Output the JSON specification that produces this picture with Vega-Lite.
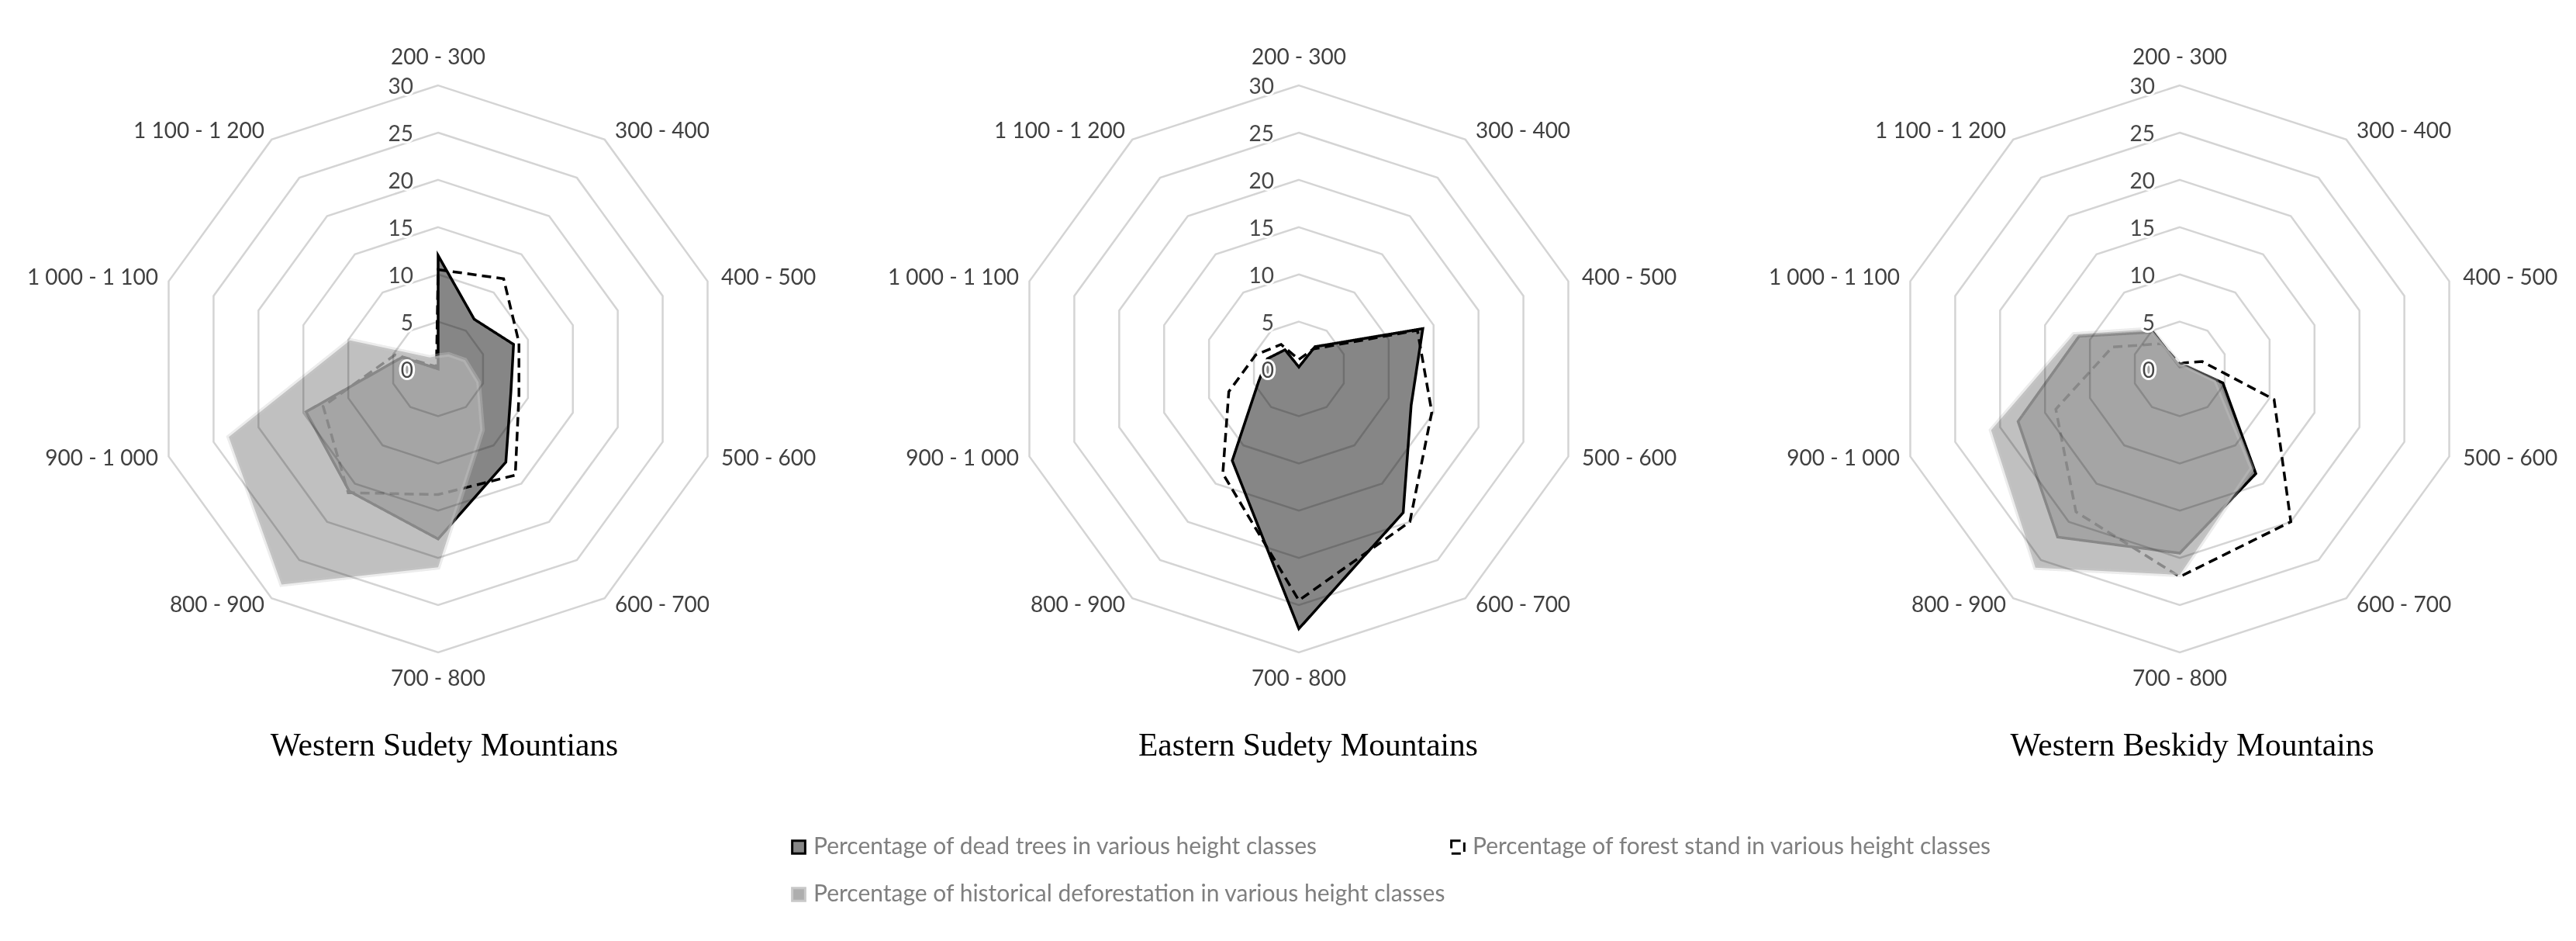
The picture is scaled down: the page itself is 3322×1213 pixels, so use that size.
{
  "$schema": "https://vega.github.io/schema/vega-lite/v6.json",
  "padding": 0,
  "background": "white",
  "spacing": 0,
  "datasets": {
    "series": [
      {"region": "WS", "series": "Percentage of dead trees in various height classes", "k": 0, "v": 12},
      {"region": "WS", "series": "Percentage of dead trees in various height classes", "k": 1, "v": 6.5},
      {"region": "WS", "series": "Percentage of dead trees in various height classes", "k": 2, "v": 8.4},
      {"region": "WS", "series": "Percentage of dead trees in various height classes", "k": 3, "v": 8.1},
      {"region": "WS", "series": "Percentage of dead trees in various height classes", "k": 4, "v": 12.2},
      {"region": "WS", "series": "Percentage of dead trees in various height classes", "k": 5, "v": 18},
      {"region": "WS", "series": "Percentage of dead trees in various height classes", "k": 6, "v": 16},
      {"region": "WS", "series": "Percentage of dead trees in various height classes", "k": 7, "v": 14.7},
      {"region": "WS", "series": "Percentage of dead trees in various height classes", "k": 8, "v": 4},
      {"region": "WS", "series": "Percentage of dead trees in various height classes", "k": 9, "v": 0},
      {"region": "WS", "series": "Percentage of forest stand in various height classes", "k": 0, "v": 10.5},
      {"region": "WS", "series": "Percentage of forest stand in various height classes", "k": 1, "v": 11.8},
      {"region": "WS", "series": "Percentage of forest stand in various height classes", "k": 2, "v": 9},
      {"region": "WS", "series": "Percentage of forest stand in various height classes", "k": 3, "v": 9},
      {"region": "WS", "series": "Percentage of forest stand in various height classes", "k": 4, "v": 13.9},
      {"region": "WS", "series": "Percentage of forest stand in various height classes", "k": 5, "v": 13.3},
      {"region": "WS", "series": "Percentage of forest stand in various height classes", "k": 6, "v": 16.2},
      {"region": "WS", "series": "Percentage of forest stand in various height classes", "k": 7, "v": 12.8},
      {"region": "WS", "series": "Percentage of forest stand in various height classes", "k": 8, "v": 4.8},
      {"region": "WS", "series": "Percentage of forest stand in various height classes", "k": 9, "v": 0.3},
      {"region": "WS", "series": "Percentage of historical deforestation in various height classes", "k": 0, "v": 1.4},
      {"region": "WS", "series": "Percentage of historical deforestation in various height classes", "k": 1, "v": 1.9},
      {"region": "WS", "series": "Percentage of historical deforestation in various height classes", "k": 2, "v": 3},
      {"region": "WS", "series": "Percentage of historical deforestation in various height classes", "k": 3, "v": 4.5},
      {"region": "WS", "series": "Percentage of historical deforestation in various height classes", "k": 4, "v": 8},
      {"region": "WS", "series": "Percentage of historical deforestation in various height classes", "k": 5, "v": 21},
      {"region": "WS", "series": "Percentage of historical deforestation in various height classes", "k": 6, "v": 28.2},
      {"region": "WS", "series": "Percentage of historical deforestation in various height classes", "k": 7, "v": 23.3},
      {"region": "WS", "series": "Percentage of historical deforestation in various height classes", "k": 8, "v": 9.8},
      {"region": "WS", "series": "Percentage of historical deforestation in various height classes", "k": 9, "v": 1.5},
      {"region": "ES", "series": "Percentage of dead trees in various height classes", "k": 0, "v": 0.2},
      {"region": "ES", "series": "Percentage of dead trees in various height classes", "k": 1, "v": 2.9},
      {"region": "ES", "series": "Percentage of dead trees in various height classes", "k": 2, "v": 13.8},
      {"region": "ES", "series": "Percentage of dead trees in various height classes", "k": 3, "v": 12.5},
      {"region": "ES", "series": "Percentage of dead trees in various height classes", "k": 4, "v": 18.8},
      {"region": "ES", "series": "Percentage of dead trees in various height classes", "k": 5, "v": 27.5},
      {"region": "ES", "series": "Percentage of dead trees in various height classes", "k": 6, "v": 12},
      {"region": "ES", "series": "Percentage of dead trees in various height classes", "k": 7, "v": 4.5},
      {"region": "ES", "series": "Percentage of dead trees in various height classes", "k": 8, "v": 3.5},
      {"region": "ES", "series": "Percentage of dead trees in various height classes", "k": 9, "v": 2.5},
      {"region": "ES", "series": "Percentage of forest stand in various height classes", "k": 0, "v": 1},
      {"region": "ES", "series": "Percentage of forest stand in various height classes", "k": 1, "v": 2.6},
      {"region": "ES", "series": "Percentage of forest stand in various height classes", "k": 2, "v": 13.2},
      {"region": "ES", "series": "Percentage of forest stand in various height classes", "k": 3, "v": 14.8},
      {"region": "ES", "series": "Percentage of forest stand in various height classes", "k": 4, "v": 20},
      {"region": "ES", "series": "Percentage of forest stand in various height classes", "k": 5, "v": 24.5},
      {"region": "ES", "series": "Percentage of forest stand in various height classes", "k": 6, "v": 13.7},
      {"region": "ES", "series": "Percentage of forest stand in various height classes", "k": 7, "v": 7.8},
      {"region": "ES", "series": "Percentage of forest stand in various height classes", "k": 8, "v": 4.8},
      {"region": "ES", "series": "Percentage of forest stand in various height classes", "k": 9, "v": 3.2},
      {"region": "WB", "series": "Percentage of dead trees in various height classes", "k": 0, "v": 0.2},
      {"region": "WB", "series": "Percentage of dead trees in various height classes", "k": 1, "v": 0.3},
      {"region": "WB", "series": "Percentage of dead trees in various height classes", "k": 2, "v": 0.8},
      {"region": "WB", "series": "Percentage of dead trees in various height classes", "k": 3, "v": 4.8},
      {"region": "WB", "series": "Percentage of dead trees in various height classes", "k": 4, "v": 13.7},
      {"region": "WB", "series": "Percentage of dead trees in various height classes", "k": 5, "v": 19.5},
      {"region": "WB", "series": "Percentage of dead trees in various height classes", "k": 6, "v": 22},
      {"region": "WB", "series": "Percentage of dead trees in various height classes", "k": 7, "v": 18},
      {"region": "WB", "series": "Percentage of dead trees in various height classes", "k": 8, "v": 11.2},
      {"region": "WB", "series": "Percentage of dead trees in various height classes", "k": 9, "v": 4.8},
      {"region": "WB", "series": "Percentage of forest stand in various height classes", "k": 0, "v": 0.5},
      {"region": "WB", "series": "Percentage of forest stand in various height classes", "k": 1, "v": 0.8},
      {"region": "WB", "series": "Percentage of forest stand in various height classes", "k": 2, "v": 2.5},
      {"region": "WB", "series": "Percentage of forest stand in various height classes", "k": 3, "v": 10.5},
      {"region": "WB", "series": "Percentage of forest stand in various height classes", "k": 4, "v": 20},
      {"region": "WB", "series": "Percentage of forest stand in various height classes", "k": 5, "v": 22},
      {"region": "WB", "series": "Percentage of forest stand in various height classes", "k": 6, "v": 18.7},
      {"region": "WB", "series": "Percentage of forest stand in various height classes", "k": 7, "v": 13.8},
      {"region": "WB", "series": "Percentage of forest stand in various height classes", "k": 8, "v": 7.5},
      {"region": "WB", "series": "Percentage of forest stand in various height classes", "k": 9, "v": 3.3},
      {"region": "WB", "series": "Percentage of historical deforestation in various height classes", "k": 0, "v": 0.5},
      {"region": "WB", "series": "Percentage of historical deforestation in various height classes", "k": 1, "v": 0.5},
      {"region": "WB", "series": "Percentage of historical deforestation in various height classes", "k": 2, "v": 0.8},
      {"region": "WB", "series": "Percentage of historical deforestation in various height classes", "k": 3, "v": 4},
      {"region": "WB", "series": "Percentage of historical deforestation in various height classes", "k": 4, "v": 13},
      {"region": "WB", "series": "Percentage of historical deforestation in various height classes", "k": 5, "v": 21.8},
      {"region": "WB", "series": "Percentage of historical deforestation in various height classes", "k": 6, "v": 26},
      {"region": "WB", "series": "Percentage of historical deforestation in various height classes", "k": 7, "v": 21},
      {"region": "WB", "series": "Percentage of historical deforestation in various height classes", "k": 8, "v": 11.8},
      {"region": "WB", "series": "Percentage of historical deforestation in various height classes", "k": 9, "v": 5.2}
    ],
    "rings": [
      {"ring": 5, "k": 0}, {"ring": 5, "k": 1}, {"ring": 5, "k": 2}, {"ring": 5, "k": 3}, {"ring": 5, "k": 4}, {"ring": 5, "k": 5}, {"ring": 5, "k": 6}, {"ring": 5, "k": 7}, {"ring": 5, "k": 8}, {"ring": 5, "k": 9},
      {"ring": 10, "k": 0}, {"ring": 10, "k": 1}, {"ring": 10, "k": 2}, {"ring": 10, "k": 3}, {"ring": 10, "k": 4}, {"ring": 10, "k": 5}, {"ring": 10, "k": 6}, {"ring": 10, "k": 7}, {"ring": 10, "k": 8}, {"ring": 10, "k": 9},
      {"ring": 15, "k": 0}, {"ring": 15, "k": 1}, {"ring": 15, "k": 2}, {"ring": 15, "k": 3}, {"ring": 15, "k": 4}, {"ring": 15, "k": 5}, {"ring": 15, "k": 6}, {"ring": 15, "k": 7}, {"ring": 15, "k": 8}, {"ring": 15, "k": 9},
      {"ring": 20, "k": 0}, {"ring": 20, "k": 1}, {"ring": 20, "k": 2}, {"ring": 20, "k": 3}, {"ring": 20, "k": 4}, {"ring": 20, "k": 5}, {"ring": 20, "k": 6}, {"ring": 20, "k": 7}, {"ring": 20, "k": 8}, {"ring": 20, "k": 9},
      {"ring": 25, "k": 0}, {"ring": 25, "k": 1}, {"ring": 25, "k": 2}, {"ring": 25, "k": 3}, {"ring": 25, "k": 4}, {"ring": 25, "k": 5}, {"ring": 25, "k": 6}, {"ring": 25, "k": 7}, {"ring": 25, "k": 8}, {"ring": 25, "k": 9},
      {"ring": 30, "k": 0}, {"ring": 30, "k": 1}, {"ring": 30, "k": 2}, {"ring": 30, "k": 3}, {"ring": 30, "k": 4}, {"ring": 30, "k": 5}, {"ring": 30, "k": 6}, {"ring": 30, "k": 7}, {"ring": 30, "k": 8}, {"ring": 30, "k": 9}
    ],
    "ticks": [{"t": 0}, {"t": 5}, {"t": 10}, {"t": 15}, {"t": 20}, {"t": 25}, {"t": 30}],
    "cats": [
      {"k": 0, "label": "200 - 300"}, {"k": 1, "label": "300 - 400"}, {"k": 2, "label": "400 - 500"},
      {"k": 3, "label": "500 - 600"}, {"k": 4, "label": "600 - 700"}, {"k": 5, "label": "700 - 800"},
      {"k": 6, "label": "800 - 900"}, {"k": 7, "label": "900 - 1 000"}, {"k": 8, "label": "1 000 - 1 100"},
      {"k": 9, "label": "1 100 - 1 200"}
    ]
  },
  "hconcat": [
    {
      "width": 1120, "height": 905,
      "title": {"text": "Western Sudety Mountians", "orient": "bottom", "anchor": "middle", "font": "Liberation Serif", "fontSize": 41.5, "fontWeight": "normal", "color": "#000000", "baseline": "top", "offset": 36, "dx": 13},
      "layer": [
        {"data": {"name": "series"},
         "transform": [{"filter": "datum.region === 'WS' && datum.series === 'Percentage of dead trees in various height classes'"}, {"calculate": "datum.v * sin(datum.k * PI / 5)", "as": "px"}, {"calculate": "datum.v * cos(datum.k * PI / 5)", "as": "py"}],
         "mark": {"type": "line", "interpolate": "linear-closed", "strokeWidth": 3.5, "strokeJoin": "miter"},
         "encoding": {
           "x": {"field": "px", "type": "quantitative", "scale": {"domain": [-46.39, 45.57], "nice": false, "zero": false}, "axis": null},
           "y": {"field": "py", "type": "quantitative", "scale": {"domain": [-35.26, 39.04], "nice": false, "zero": false}, "axis": null},
           "order": {"field": "k", "type": "quantitative"},
           "fill": {"field": "series", "type": "nominal", "scale": {"domain": ["Percentage of dead trees in various height classes", "Percentage of forest stand in various height classes", "Percentage of historical deforestation in various height classes"], "range": ["#868686", "transparent", "#aeaeae"]}, "legend": {"title": null}},
           "stroke": {"field": "series", "type": "nominal", "scale": {"domain": ["Percentage of dead trees in various height classes", "Percentage of forest stand in various height classes", "Percentage of historical deforestation in various height classes"], "range": ["#000000", "#000000", "#c8c8c8"]}, "legend": {"title": null}},
           "strokeDash": {"field": "series", "type": "nominal", "scale": {"domain": ["Percentage of dead trees in various height classes", "Percentage of forest stand in various height classes", "Percentage of historical deforestation in various height classes"], "range": [[1, 0], [12, 7], [1, 0]]}, "legend": {"title": null}}
         }},
        {"data": {"name": "series"},
         "transform": [{"filter": "datum.region === 'WS' && datum.series === 'Percentage of forest stand in various height classes'"}, {"calculate": "datum.v * sin(datum.k * PI / 5)", "as": "px"}, {"calculate": "datum.v * cos(datum.k * PI / 5)", "as": "py"}],
         "mark": {"type": "line", "interpolate": "linear-closed", "strokeWidth": 3.5, "strokeJoin": "miter"},
         "encoding": {
           "x": {"field": "px", "type": "quantitative", "scale": {"domain": [-46.39, 45.57], "nice": false, "zero": false}, "axis": null},
           "y": {"field": "py", "type": "quantitative", "scale": {"domain": [-35.26, 39.04], "nice": false, "zero": false}, "axis": null},
           "order": {"field": "k", "type": "quantitative"},
           "fill": {"field": "series", "type": "nominal", "legend": {"title": null}},
           "stroke": {"field": "series", "type": "nominal", "legend": {"title": null}},
           "strokeDash": {"field": "series", "type": "nominal", "legend": {"title": null}}
         }},
        {"data": {"name": "series"},
         "transform": [{"filter": "datum.region === 'WS' && datum.series === 'Percentage of historical deforestation in various height classes'"}, {"calculate": "datum.v * sin(datum.k * PI / 5)", "as": "px"}, {"calculate": "datum.v * cos(datum.k * PI / 5)", "as": "py"}],
         "mark": {"type": "line", "interpolate": "linear-closed", "strokeWidth": 6, "strokeOpacity": 0.35, "fillOpacity": 0.78},
         "encoding": {
           "x": {"field": "px", "type": "quantitative", "scale": {"domain": [-46.39, 45.57], "nice": false, "zero": false}, "axis": null},
           "y": {"field": "py", "type": "quantitative", "scale": {"domain": [-35.26, 39.04], "nice": false, "zero": false}, "axis": null},
           "order": {"field": "k", "type": "quantitative"},
           "fill": {"field": "series", "type": "nominal", "legend": {"title": null}},
           "stroke": {"field": "series", "type": "nominal", "legend": {"title": null}},
           "strokeDash": {"field": "series", "type": "nominal", "legend": {"title": null}}
         }},
        {"data": {"name": "rings"},
         "transform": [{"calculate": "datum.ring * sin(datum.k * PI / 5)", "as": "px"}, {"calculate": "datum.ring * cos(datum.k * PI / 5)", "as": "py"}],
         "mark": {"type": "line", "interpolate": "linear-closed", "stroke": "#d4d4d4", "strokeWidth": 2.5, "blend": "multiply"},
         "encoding": {
           "x": {"field": "px", "type": "quantitative", "scale": {"domain": [-46.39, 45.57], "nice": false, "zero": false}, "axis": null},
           "y": {"field": "py", "type": "quantitative", "scale": {"domain": [-35.26, 39.04], "nice": false, "zero": false}, "axis": null},
           "order": {"field": "k", "type": "quantitative"},
           "detail": {"field": "ring", "type": "nominal"}
         }},
        {"data": {"name": "ticks"},
         "mark": {"type": "text", "align": "right", "baseline": "middle", "dx": -32, "dy": 3, "font": "Lato", "fontSize": 28, "stroke": "white", "strokeWidth": 6, "fill": "white"},
         "encoding": {
           "x": {"datum": 0, "type": "quantitative", "scale": {"domain": [-46.39, 45.57], "nice": false, "zero": false}, "axis": null},
           "y": {"field": "t", "type": "quantitative", "scale": {"domain": [-35.26, 39.04], "nice": false, "zero": false}, "axis": null},
           "text": {"field": "t", "type": "quantitative"}
         }},
        {"data": {"name": "ticks"},
         "mark": {"type": "text", "align": "right", "baseline": "middle", "dx": -32, "dy": 3, "font": "Lato", "fontSize": 28, "fill": "#474747"},
         "encoding": {
           "x": {"datum": 0, "type": "quantitative", "scale": {"domain": [-46.39, 45.57], "nice": false, "zero": false}, "axis": null},
           "y": {"field": "t", "type": "quantitative", "scale": {"domain": [-35.26, 39.04], "nice": false, "zero": false}, "axis": null},
           "text": {"field": "t", "type": "quantitative"}
         }},
        {"data": {"name": "cats"},
         "transform": [{"filter": "datum.k === 0 || datum.k === 5"}, {"calculate": "32.85 * sin(datum.k * PI / 5)", "as": "px"}, {"calculate": "32.85 * cos(datum.k * PI / 5)", "as": "py"}],
         "mark": {"type": "text", "align": "center", "baseline": "middle", "font": "Lato", "fontSize": 28, "fill": "#404040"},
         "encoding": {
           "x": {"field": "px", "type": "quantitative", "scale": {"domain": [-46.39, 45.57], "nice": false, "zero": false}, "axis": null},
           "y": {"field": "py", "type": "quantitative", "scale": {"domain": [-35.26, 39.04], "nice": false, "zero": false}, "axis": null},
           "text": {"field": "label", "type": "nominal"}
         }},
        {"data": {"name": "cats"},
         "transform": [{"filter": "datum.k >= 1 && datum.k <= 4"}, {"calculate": "31 * sin(datum.k * PI / 5)", "as": "px"}, {"calculate": "31 * cos(datum.k * PI / 5)", "as": "py"}],
         "mark": {"type": "text", "align": "left", "baseline": "middle", "dx": 6, "font": "Lato", "fontSize": 28, "fill": "#404040"},
         "encoding": {
           "x": {"field": "px", "type": "quantitative", "scale": {"domain": [-46.39, 45.57], "nice": false, "zero": false}, "axis": null},
           "y": {"field": "py", "type": "quantitative", "scale": {"domain": [-35.26, 39.04], "nice": false, "zero": false}, "axis": null},
           "text": {"field": "label", "type": "nominal"}
         }},
        {"data": {"name": "cats"},
         "transform": [{"filter": "datum.k >= 6"}, {"calculate": "31 * sin(datum.k * PI / 5)", "as": "px"}, {"calculate": "31 * cos(datum.k * PI / 5)", "as": "py"}],
         "mark": {"type": "text", "align": "right", "baseline": "middle", "dx": -2, "font": "Lato", "fontSize": 28, "fill": "#404040"},
         "encoding": {
           "x": {"field": "px", "type": "quantitative", "scale": {"domain": [-46.39, 45.57], "nice": false, "zero": false}, "axis": null},
           "y": {"field": "py", "type": "quantitative", "scale": {"domain": [-35.26, 39.04], "nice": false, "zero": false}, "axis": null},
           "text": {"field": "label", "type": "nominal"}
         }}
      ]
    },
    {
      "width": 1120, "height": 905,
      "title": {"text": "Eastern Sudety Mountains", "orient": "bottom", "anchor": "middle", "font": "Liberation Serif", "fontSize": 41.5, "fontWeight": "normal", "color": "#000000", "baseline": "top", "offset": 36, "dx": 7},
      "layer": [
        {"data": {"name": "series"},
         "transform": [{"filter": "datum.region === 'ES' && datum.series === 'Percentage of dead trees in various height classes'"}, {"calculate": "datum.v * sin(datum.k * PI / 5)", "as": "px"}, {"calculate": "datum.v * cos(datum.k * PI / 5)", "as": "py"}],
         "mark": {"type": "line", "interpolate": "linear-closed", "strokeWidth": 3.5, "strokeJoin": "miter"},
         "encoding": {
           "x": {"field": "px", "type": "quantitative", "scale": {"domain": [-45.57, 46.39], "nice": false, "zero": false}, "axis": null},
           "y": {"field": "py", "type": "quantitative", "scale": {"domain": [-35.26, 39.04], "nice": false, "zero": false}, "axis": null},
           "order": {"field": "k", "type": "quantitative"},
           "fill": {"field": "series", "type": "nominal", "legend": {"title": null}},
           "stroke": {"field": "series", "type": "nominal", "legend": {"title": null}},
           "strokeDash": {"field": "series", "type": "nominal", "legend": {"title": null}}
         }},
        {"data": {"name": "series"},
         "transform": [{"filter": "datum.region === 'ES' && datum.series === 'Percentage of forest stand in various height classes'"}, {"calculate": "datum.v * sin(datum.k * PI / 5)", "as": "px"}, {"calculate": "datum.v * cos(datum.k * PI / 5)", "as": "py"}],
         "mark": {"type": "line", "interpolate": "linear-closed", "strokeWidth": 3.5, "strokeJoin": "miter"},
         "encoding": {
           "x": {"field": "px", "type": "quantitative", "scale": {"domain": [-45.57, 46.39], "nice": false, "zero": false}, "axis": null},
           "y": {"field": "py", "type": "quantitative", "scale": {"domain": [-35.26, 39.04], "nice": false, "zero": false}, "axis": null},
           "order": {"field": "k", "type": "quantitative"},
           "fill": {"field": "series", "type": "nominal", "legend": {"title": null}},
           "stroke": {"field": "series", "type": "nominal", "legend": {"title": null}},
           "strokeDash": {"field": "series", "type": "nominal", "legend": {"title": null}}
         }},
        {"data": {"name": "rings"},
         "transform": [{"calculate": "datum.ring * sin(datum.k * PI / 5)", "as": "px"}, {"calculate": "datum.ring * cos(datum.k * PI / 5)", "as": "py"}],
         "mark": {"type": "line", "interpolate": "linear-closed", "stroke": "#d4d4d4", "strokeWidth": 2.5, "blend": "multiply"},
         "encoding": {
           "x": {"field": "px", "type": "quantitative", "scale": {"domain": [-45.57, 46.39], "nice": false, "zero": false}, "axis": null},
           "y": {"field": "py", "type": "quantitative", "scale": {"domain": [-35.26, 39.04], "nice": false, "zero": false}, "axis": null},
           "order": {"field": "k", "type": "quantitative"},
           "detail": {"field": "ring", "type": "nominal"}
         }},
        {"data": {"name": "ticks"},
         "mark": {"type": "text", "align": "right", "baseline": "middle", "dx": -32, "dy": 3, "font": "Lato", "fontSize": 28, "stroke": "white", "strokeWidth": 6, "fill": "white"},
         "encoding": {
           "x": {"datum": 0, "type": "quantitative", "scale": {"domain": [-45.57, 46.39], "nice": false, "zero": false}, "axis": null},
           "y": {"field": "t", "type": "quantitative", "scale": {"domain": [-35.26, 39.04], "nice": false, "zero": false}, "axis": null},
           "text": {"field": "t", "type": "quantitative"}
         }},
        {"data": {"name": "ticks"},
         "mark": {"type": "text", "align": "right", "baseline": "middle", "dx": -32, "dy": 3, "font": "Lato", "fontSize": 28, "fill": "#474747"},
         "encoding": {
           "x": {"datum": 0, "type": "quantitative", "scale": {"domain": [-45.57, 46.39], "nice": false, "zero": false}, "axis": null},
           "y": {"field": "t", "type": "quantitative", "scale": {"domain": [-35.26, 39.04], "nice": false, "zero": false}, "axis": null},
           "text": {"field": "t", "type": "quantitative"}
         }},
        {"data": {"name": "cats"},
         "transform": [{"filter": "datum.k === 0 || datum.k === 5"}, {"calculate": "32.85 * sin(datum.k * PI / 5)", "as": "px"}, {"calculate": "32.85 * cos(datum.k * PI / 5)", "as": "py"}],
         "mark": {"type": "text", "align": "center", "baseline": "middle", "font": "Lato", "fontSize": 28, "fill": "#404040"},
         "encoding": {
           "x": {"field": "px", "type": "quantitative", "scale": {"domain": [-45.57, 46.39], "nice": false, "zero": false}, "axis": null},
           "y": {"field": "py", "type": "quantitative", "scale": {"domain": [-35.26, 39.04], "nice": false, "zero": false}, "axis": null},
           "text": {"field": "label", "type": "nominal"}
         }},
        {"data": {"name": "cats"},
         "transform": [{"filter": "datum.k >= 1 && datum.k <= 4"}, {"calculate": "31 * sin(datum.k * PI / 5)", "as": "px"}, {"calculate": "31 * cos(datum.k * PI / 5)", "as": "py"}],
         "mark": {"type": "text", "align": "left", "baseline": "middle", "dx": 6, "font": "Lato", "fontSize": 28, "fill": "#404040"},
         "encoding": {
           "x": {"field": "px", "type": "quantitative", "scale": {"domain": [-45.57, 46.39], "nice": false, "zero": false}, "axis": null},
           "y": {"field": "py", "type": "quantitative", "scale": {"domain": [-35.26, 39.04], "nice": false, "zero": false}, "axis": null},
           "text": {"field": "label", "type": "nominal"}
         }},
        {"data": {"name": "cats"},
         "transform": [{"filter": "datum.k >= 6"}, {"calculate": "31 * sin(datum.k * PI / 5)", "as": "px"}, {"calculate": "31 * cos(datum.k * PI / 5)", "as": "py"}],
         "mark": {"type": "text", "align": "right", "baseline": "middle", "dx": -2, "font": "Lato", "fontSize": 28, "fill": "#404040"},
         "encoding": {
           "x": {"field": "px", "type": "quantitative", "scale": {"domain": [-45.57, 46.39], "nice": false, "zero": false}, "axis": null},
           "y": {"field": "py", "type": "quantitative", "scale": {"domain": [-35.26, 39.04], "nice": false, "zero": false}, "axis": null},
           "text": {"field": "label", "type": "nominal"}
         }}
      ]
    },
    {
      "width": 1082, "height": 905,
      "title": {"text": "Western Beskidy Mountains", "orient": "bottom", "anchor": "middle", "font": "Liberation Serif", "fontSize": 41.5, "fontWeight": "normal", "color": "#000000", "baseline": "top", "offset": 36, "dx": 46},
      "layer": [
        {"data": {"name": "series"},
         "transform": [{"filter": "datum.region === 'WB' && datum.series === 'Percentage of dead trees in various height classes'"}, {"calculate": "datum.v * sin(datum.k * PI / 5)", "as": "px"}, {"calculate": "datum.v * cos(datum.k * PI / 5)", "as": "py"}],
         "mark": {"type": "line", "interpolate": "linear-closed", "strokeWidth": 3.5, "strokeJoin": "miter"},
         "encoding": {
           "x": {"field": "px", "type": "quantitative", "scale": {"domain": [-46.88, 41.95], "nice": false, "zero": false}, "axis": null},
           "y": {"field": "py", "type": "quantitative", "scale": {"domain": [-35.26, 39.04], "nice": false, "zero": false}, "axis": null},
           "order": {"field": "k", "type": "quantitative"},
           "fill": {"field": "series", "type": "nominal", "legend": {"title": null}},
           "stroke": {"field": "series", "type": "nominal", "legend": {"title": null}},
           "strokeDash": {"field": "series", "type": "nominal", "legend": {"title": null}}
         }},
        {"data": {"name": "series"},
         "transform": [{"filter": "datum.region === 'WB' && datum.series === 'Percentage of forest stand in various height classes'"}, {"calculate": "datum.v * sin(datum.k * PI / 5)", "as": "px"}, {"calculate": "datum.v * cos(datum.k * PI / 5)", "as": "py"}],
         "mark": {"type": "line", "interpolate": "linear-closed", "strokeWidth": 3.5, "strokeJoin": "miter"},
         "encoding": {
           "x": {"field": "px", "type": "quantitative", "scale": {"domain": [-46.88, 41.95], "nice": false, "zero": false}, "axis": null},
           "y": {"field": "py", "type": "quantitative", "scale": {"domain": [-35.26, 39.04], "nice": false, "zero": false}, "axis": null},
           "order": {"field": "k", "type": "quantitative"},
           "fill": {"field": "series", "type": "nominal", "legend": {"title": null}},
           "stroke": {"field": "series", "type": "nominal", "legend": {"title": null}},
           "strokeDash": {"field": "series", "type": "nominal", "legend": {"title": null}}
         }},
        {"data": {"name": "series"},
         "transform": [{"filter": "datum.region === 'WB' && datum.series === 'Percentage of historical deforestation in various height classes'"}, {"calculate": "datum.v * sin(datum.k * PI / 5)", "as": "px"}, {"calculate": "datum.v * cos(datum.k * PI / 5)", "as": "py"}],
         "mark": {"type": "line", "interpolate": "linear-closed", "strokeWidth": 6, "strokeOpacity": 0.35, "fillOpacity": 0.78},
         "encoding": {
           "x": {"field": "px", "type": "quantitative", "scale": {"domain": [-46.88, 41.95], "nice": false, "zero": false}, "axis": null},
           "y": {"field": "py", "type": "quantitative", "scale": {"domain": [-35.26, 39.04], "nice": false, "zero": false}, "axis": null},
           "order": {"field": "k", "type": "quantitative"},
           "fill": {"field": "series", "type": "nominal", "legend": {"title": null}},
           "stroke": {"field": "series", "type": "nominal", "legend": {"title": null}},
           "strokeDash": {"field": "series", "type": "nominal", "legend": {"title": null}}
         }},
        {"data": {"name": "rings"},
         "transform": [{"calculate": "datum.ring * sin(datum.k * PI / 5)", "as": "px"}, {"calculate": "datum.ring * cos(datum.k * PI / 5)", "as": "py"}],
         "mark": {"type": "line", "interpolate": "linear-closed", "stroke": "#d4d4d4", "strokeWidth": 2.5, "blend": "multiply"},
         "encoding": {
           "x": {"field": "px", "type": "quantitative", "scale": {"domain": [-46.88, 41.95], "nice": false, "zero": false}, "axis": null},
           "y": {"field": "py", "type": "quantitative", "scale": {"domain": [-35.26, 39.04], "nice": false, "zero": false}, "axis": null},
           "order": {"field": "k", "type": "quantitative"},
           "detail": {"field": "ring", "type": "nominal"}
         }},
        {"data": {"name": "ticks"},
         "mark": {"type": "text", "align": "right", "baseline": "middle", "dx": -32, "dy": 3, "font": "Lato", "fontSize": 28, "stroke": "white", "strokeWidth": 6, "fill": "white"},
         "encoding": {
           "x": {"datum": 0, "type": "quantitative", "scale": {"domain": [-46.88, 41.95], "nice": false, "zero": false}, "axis": null},
           "y": {"field": "t", "type": "quantitative", "scale": {"domain": [-35.26, 39.04], "nice": false, "zero": false}, "axis": null},
           "text": {"field": "t", "type": "quantitative"}
         }},
        {"data": {"name": "ticks"},
         "mark": {"type": "text", "align": "right", "baseline": "middle", "dx": -32, "dy": 3, "font": "Lato", "fontSize": 28, "fill": "#474747"},
         "encoding": {
           "x": {"datum": 0, "type": "quantitative", "scale": {"domain": [-46.88, 41.95], "nice": false, "zero": false}, "axis": null},
           "y": {"field": "t", "type": "quantitative", "scale": {"domain": [-35.26, 39.04], "nice": false, "zero": false}, "axis": null},
           "text": {"field": "t", "type": "quantitative"}
         }},
        {"data": {"name": "cats"},
         "transform": [{"filter": "datum.k === 0 || datum.k === 5"}, {"calculate": "32.85 * sin(datum.k * PI / 5)", "as": "px"}, {"calculate": "32.85 * cos(datum.k * PI / 5)", "as": "py"}],
         "mark": {"type": "text", "align": "center", "baseline": "middle", "font": "Lato", "fontSize": 28, "fill": "#404040"},
         "encoding": {
           "x": {"field": "px", "type": "quantitative", "scale": {"domain": [-46.88, 41.95], "nice": false, "zero": false}, "axis": null},
           "y": {"field": "py", "type": "quantitative", "scale": {"domain": [-35.26, 39.04], "nice": false, "zero": false}, "axis": null},
           "text": {"field": "label", "type": "nominal"}
         }},
        {"data": {"name": "cats"},
         "transform": [{"filter": "datum.k >= 1 && datum.k <= 4"}, {"calculate": "31 * sin(datum.k * PI / 5)", "as": "px"}, {"calculate": "31 * cos(datum.k * PI / 5)", "as": "py"}],
         "mark": {"type": "text", "align": "left", "baseline": "middle", "dx": 6, "font": "Lato", "fontSize": 28, "fill": "#404040"},
         "encoding": {
           "x": {"field": "px", "type": "quantitative", "scale": {"domain": [-46.88, 41.95], "nice": false, "zero": false}, "axis": null},
           "y": {"field": "py", "type": "quantitative", "scale": {"domain": [-35.26, 39.04], "nice": false, "zero": false}, "axis": null},
           "text": {"field": "label", "type": "nominal"}
         }},
        {"data": {"name": "cats"},
         "transform": [{"filter": "datum.k >= 6"}, {"calculate": "31 * sin(datum.k * PI / 5)", "as": "px"}, {"calculate": "31 * cos(datum.k * PI / 5)", "as": "py"}],
         "mark": {"type": "text", "align": "right", "baseline": "middle", "dx": -2, "font": "Lato", "fontSize": 28, "fill": "#404040"},
         "encoding": {
           "x": {"field": "px", "type": "quantitative", "scale": {"domain": [-46.88, 41.95], "nice": false, "zero": false}, "axis": null},
           "y": {"field": "py", "type": "quantitative", "scale": {"domain": [-35.26, 39.04], "nice": false, "zero": false}, "axis": null},
           "text": {"field": "label", "type": "nominal"}
         }}
      ]
    }
  ],
  "config": {
    "view": {"stroke": null},
    "concat": {"spacing": 0},
    "legend": {
      "orient": "none", "legendX": 1015, "legendY": 1077, "columns": 2, "direction": "horizontal",
      "labelFont": "Lato", "labelFontSize": 30, "labelColor": "#7f7f7f", "labelLimit": 0, "labelOffset": 4,
      "symbolType": "square", "symbolSize": 280, "symbolStrokeWidth": 3, "symbolOpacity": 1,
      "columnPadding": 0, "rowPadding": 31, "padding": 0
    }
  }
}
